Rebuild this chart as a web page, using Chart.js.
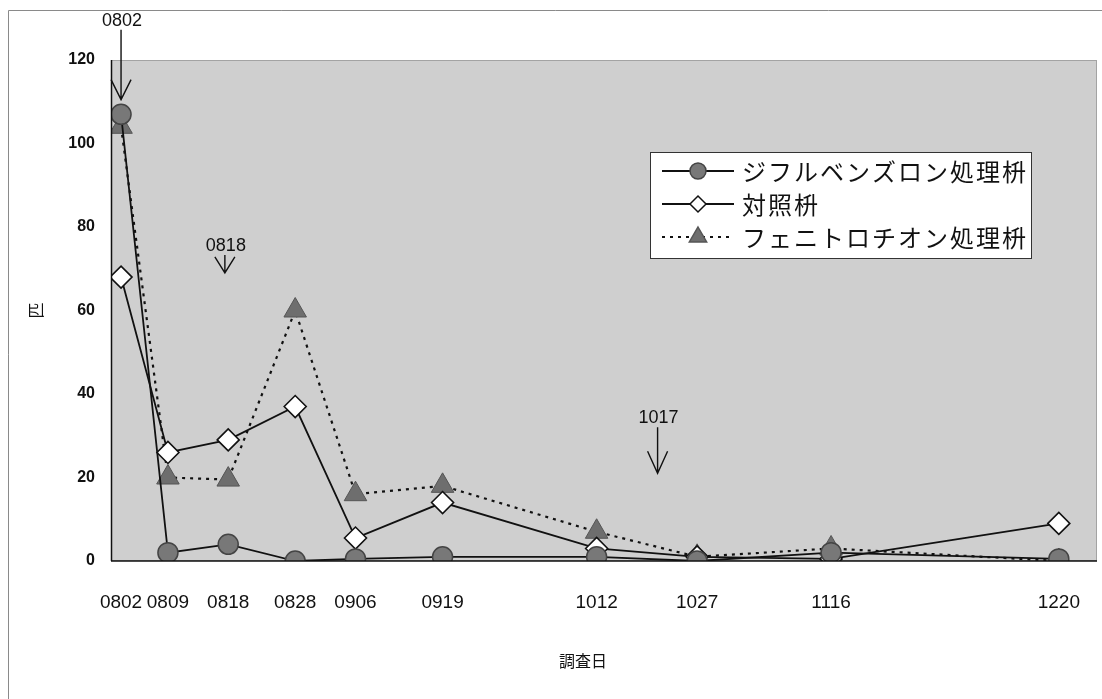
<!DOCTYPE html>
<html>
<head>
<meta charset="utf-8">
<script src="https://cdn.jsdelivr.net/npm/chart.js@4.4.1/dist/chart.umd.min.js"></script>
<style>
  html, body { margin: 0; padding: 0; background: #ffffff; }
  #wrap { position: relative; width: 1102px; height: 699px; }
  canvas { display: block; }
</style>
</head>
<body>
<div id="wrap"><canvas id="c" width="1102" height="699"></canvas></div>
<script>
// ---- data ----
const dates = ['0802', '0809', '0818', '0828', '0906', '0919', '1012', '1027', '1116', '1220'];
const diflubenzuron = [107, 2, 4, 0, 0.5, 1, 1, 0, 2, 0.5];
const control = [68, 26, 29, 37, 5.5, 14, 3, 1, 0.5, 9];
const fenitrothion = [104, 20, 19.5, 60, 16, 18, 7, 1, 3, 0];
const seriesNames = ['ジフルベンズロン処理枡', '対照枡', 'フェニトロチオン処理枡'];
const yTicks = [0, 20, 40, 60, 80, 100, 120];
const sprayDates = ['0802', '0818', '1017'];
const xTitle = '調査日';
const yTitle = '匹';

// day offset from first survey date (MMDD labels)
function dayOf(mmdd) {
  const m = parseInt(mmdd.slice(0, 2), 10) - 1, d = parseInt(mmdd.slice(2), 10);
  return Math.round((Date.UTC(2001, m, d) - Date.UTC(2001, 7, 2)) / 86400000);
}
const days = dates.map(dayOf);
const toPts = arr => arr.map((v, i) => ({ x: days[i], y: v }));

const jpFont = '"Noto Sans CJK JP", "Noto Sans", sans-serif';
const numFont = '"Liberation Sans", Arial, sans-serif';
const narrowFont = '"Liberation Sans Narrow", "Liberation Sans", Arial, sans-serif';

// arrow styling (tip in axis units, lengths in px)
const arrowStyle = [
  { tip: 110.5, len: 70, head: 20, shift: 0 },
  { tip: 69, len: 18, head: 16, shift: -0.5 },
  { tip: 21, len: 46, head: 22, shift: 4.1 }
];
const legendBox = { x: 650, y: 152, w: 381, h: 106, firstRow: 19, rowGap: 33, lineStart: 12, lineLen: 72, textStart: 92 };
const xTitlePos = { x: 583, y: 661 };

// plot background
const bgPlugin = {
  id: 'bg',
  beforeDraw(chart) {
    const { ctx, chartArea: a } = chart;
    ctx.save();
    ctx.strokeStyle = '#8a8a8a';
    ctx.lineWidth = 1;
    ctx.beginPath();
    ctx.moveTo(8.5, 699); ctx.lineTo(8.5, 10.5); ctx.lineTo(1102, 10.5);
    ctx.stroke();
    ctx.fillStyle = '#cfcfcf';
    ctx.fillRect(a.left, a.top, a.right - a.left, a.bottom - a.top);
    ctx.strokeStyle = '#777';
    ctx.setLineDash([1, 1]);
    ctx.strokeRect(a.left + 0.5, a.top + 0.5, a.right - a.left - 1, a.bottom - a.top - 1);
    ctx.restore();
  },
  afterDatasetsDraw(chart) {
    const { ctx, chartArea: a } = chart;
    ctx.save();
    ctx.strokeStyle = '#111';
    ctx.lineWidth = 1.5;
    ctx.beginPath();
    ctx.moveTo(a.left, a.bottom); ctx.lineTo(a.right, a.bottom);
    ctx.moveTo(a.left + 0.5, a.top); ctx.lineTo(a.left + 0.5, a.bottom);
    ctx.stroke();
    ctx.restore();
  }
};

// arrows marking spray dates + x axis title
const arrowPlugin = {
  id: 'arrows',
  afterDraw(chart) {
    const { ctx, scales } = chart;
    ctx.save();
    ctx.strokeStyle = '#111';
    ctx.fillStyle = '#111';
    ctx.lineWidth = 1.4;
    ctx.font = '18px ' + narrowFont;
    ctx.textAlign = 'center';
    ctx.textBaseline = 'middle';
    sprayDates.forEach((lab, i) => {
      const st = arrowStyle[i];
      const x = scales.x.getPixelForValue(dayOf(lab) + st.shift);
      const tip = scales.y.getPixelForValue(st.tip);
      const top = tip - st.len;
      ctx.beginPath();
      ctx.moveTo(x, top); ctx.lineTo(x, tip);
      ctx.moveTo(x - 10, tip - st.head); ctx.lineTo(x, tip); ctx.lineTo(x + 10, tip - st.head);
      ctx.stroke();
      ctx.fillText(lab, x + 1, top - 9);
    });
    ctx.font = '16px ' + jpFont;
    ctx.fillText(xTitle, xTitlePos.x, xTitlePos.y);
    ctx.restore();
  }
};

function drawMarker(ctx, style, x, y, r, fill, stroke) {
  ctx.save();
  ctx.fillStyle = fill; ctx.strokeStyle = stroke; ctx.lineWidth = 1.5;
  ctx.beginPath();
  if (style === 'circle') {
    ctx.arc(x, y, r, 0, Math.PI * 2);
  } else if (style === 'rectRot') {
    ctx.moveTo(x - r, y); ctx.lineTo(x, y - r); ctx.lineTo(x + r, y); ctx.lineTo(x, y + r); ctx.closePath();
  } else {
    const w = r * 0.866;
    ctx.moveTo(x, y - r); ctx.lineTo(x + w, y + r / 2); ctx.lineTo(x - w, y + r / 2); ctx.closePath();
  }
  ctx.fill(); ctx.stroke();
  ctx.restore();
}

// legend inside the plot
const legendPlugin = {
  id: 'inLegend',
  afterDraw(chart) {
    const { ctx } = chart;
    const L = legendBox;
    ctx.save();
    ctx.fillStyle = '#ffffff';
    ctx.fillRect(L.x, L.y, L.w, L.h);
    ctx.strokeStyle = '#333';
    ctx.lineWidth = 1;
    ctx.strokeRect(L.x + 0.5, L.y + 0.5, L.w, L.h);
    chart.data.datasets.forEach((ds, i) => {
      const y = L.y + L.firstRow + i * L.rowGap;
      ctx.save();
      ctx.strokeStyle = '#111';
      ctx.lineWidth = ds.borderWidth;
      ctx.setLineDash(ds.borderDash || []);
      ctx.beginPath();
      ctx.moveTo(L.x + L.lineStart, y); ctx.lineTo(L.x + L.lineStart + L.lineLen, y);
      ctx.stroke();
      ctx.restore();
      drawMarker(ctx, ds.pointStyle, L.x + L.lineStart + L.lineLen / 2, y, ds.legendRadius,
        ds.pointBackgroundColor, ds.pointBorderColor);
      ctx.save();
      ctx.fillStyle = '#111';
      ctx.font = '24px ' + jpFont;
      try { ctx.letterSpacing = '2px'; } catch (e) {}
      ctx.textAlign = 'left';
      ctx.textBaseline = 'middle';
      ctx.fillText(ds.label, L.x + L.textStart, y + 1);
      ctx.restore();
    });
    ctx.restore();
  }
};

new Chart(document.getElementById('c'), {
  type: 'line',
  data: {
    datasets: [
      {
        label: seriesNames[0], data: toPts(diflubenzuron),
        borderColor: '#111', borderWidth: 1.8,
        pointStyle: 'circle', pointRadius: 10, legendRadius: 8,
        pointBackgroundColor: '#787878', pointBorderColor: '#444', pointBorderWidth: 1.5
      },
      {
        label: seriesNames[1], data: toPts(control),
        borderColor: '#111', borderWidth: 1.8,
        pointStyle: 'rectRot', pointRadius: 11, legendRadius: 8,
        pointBackgroundColor: '#ffffff', pointBorderColor: '#111', pointBorderWidth: 1.6
      },
      {
        label: seriesNames[2], data: toPts(fenitrothion),
        borderColor: '#111', borderWidth: 2.2, borderDash: [3, 5],
        pointStyle: 'triangle', pointRadius: 13, legendRadius: 10,
        pointBackgroundColor: '#6e6e6e', pointBorderColor: '#555', pointBorderWidth: 1
      }
    ]
  },
  options: {
    responsive: false,
    animation: false,
    layout: { autoPadding: false, padding: { left: 0, right: 5, top: 60, bottom: 0 } },
    plugins: {
      legend: { display: false },
      tooltip: { enabled: false }
    },
    scales: {
      x: {
        type: 'linear',
        min: -1.5, max: 145.7,
        afterFit(s) { s.height = 138; s.paddingLeft = 0; s.paddingRight = 0; },
        afterBuildTicks(s) { s.ticks = days.map(v => ({ value: v })); },
        grid: { display: false, drawTicks: false },
        border: { display: false },
        ticks: {
          autoSkip: false, maxRotation: 0, padding: 30,
          color: '#111', font: { family: narrowFont, size: 19 },
          callback: (v) => dates[days.indexOf(v)]
        },
        title: { display: false }
      },
      y: {
        min: 0, max: 120,
        afterFit(s) { s.width = 111; },
        afterBuildTicks(s) { s.ticks = yTicks.map(v => ({ value: v })); },
        grid: { display: false, drawTicks: false },
        border: { display: false },
        ticks: {
          padding: 16, color: '#111',
          font: { family: numFont, size: 16, weight: 'bold' }
        },
        title: {
          display: true, text: yTitle, color: '#111',
          font: { family: jpFont, size: 16 }, padding: { top: 26, bottom: 0 }
        }
      }
    }
  },
  plugins: [bgPlugin, arrowPlugin, legendPlugin]
});
</script>
</body>
</html>
